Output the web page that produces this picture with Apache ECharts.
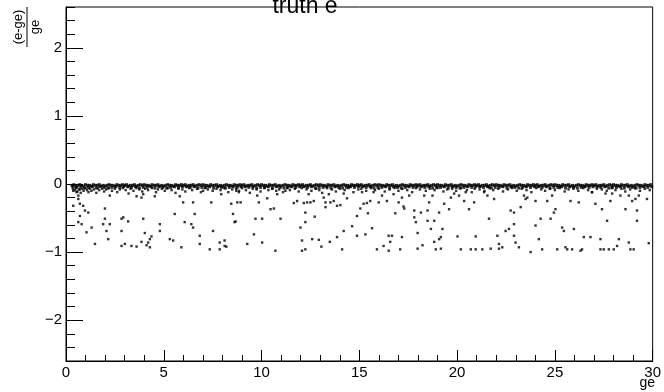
<!DOCTYPE html>
<html>
<head>
<meta charset="utf-8">
<script src="https://cdn.jsdelivr.net/npm/echarts@6/dist/echarts.min.js"></script>
<style>
  html, body { margin: 0; padding: 0; background: #fff; }
  #chart { width: 664px; height: 392px; }
</style>
</head>
<body>
<div id="chart"></div>
<script>
// axis ticks / labels
let xTicks = [0, 5, 10, 15, 20, 25, 30]
let yMajor = [-2, -1, 0, 1, 2]

// dense band just under zero (top row)
let bandTop = [
  [0.3,-0.02],[0.4,-0.01],[0.5,-0.03],[0.6,-0.02],[0.7,-0.01],[0.8,-0.02],[0.9,-0.03],
  [1.0,-0.01],[1.1,-0.02],[1.2,-0.02],[1.3,-0.03],[1.4,-0.01],[1.5,-0.02],[1.6,-0.02],[1.7,-0.01],[1.8,-0.03],[1.9,-0.02],
  [2.0,-0.03],[2.1,-0.02],[2.2,-0.01],[2.3,-0.02],[2.4,-0.02],[2.5,-0.03],[2.6,-0.01],[2.7,-0.02],[2.8,-0.02],[2.9,-0.01],
  [3.0,-0.02],[3.1,-0.01],[3.2,-0.03],[3.3,-0.02],[3.4,-0.02],[3.5,-0.01],[3.6,-0.03],[3.7,-0.02],[3.8,-0.01],[3.9,-0.02],
  [4.0,-0.01],[4.1,-0.02],[4.2,-0.02],[4.3,-0.03],[4.4,-0.01],[4.5,-0.02],[4.6,-0.02],[4.7,-0.01],[4.8,-0.03],[4.9,-0.02],
  [5.0,-0.03],[5.1,-0.02],[5.2,-0.01],[5.3,-0.02],[5.4,-0.02],[5.5,-0.03],[5.6,-0.01],[5.7,-0.02],[5.8,-0.02],[5.9,-0.01],
  [6.0,-0.02],[6.1,-0.01],[6.2,-0.03],[6.3,-0.02],[6.4,-0.02],[6.5,-0.01],[6.6,-0.03],[6.7,-0.02],[6.8,-0.01],[6.9,-0.02],
  [7.0,-0.01],[7.1,-0.02],[7.2,-0.02],[7.3,-0.03],[7.4,-0.01],[7.5,-0.02],[7.6,-0.02],[7.7,-0.01],[7.8,-0.03],[7.9,-0.02],
  [8.0,-0.03],[8.1,-0.02],[8.2,-0.01],[8.3,-0.02],[8.4,-0.02],[8.5,-0.03],[8.6,-0.01],[8.7,-0.02],[8.8,-0.02],[8.9,-0.01],
  [9.0,-0.02],[9.1,-0.01],[9.2,-0.03],[9.3,-0.02],[9.4,-0.02],[9.5,-0.01],[9.6,-0.03],[9.7,-0.02],[9.8,-0.01],[9.9,-0.02],
  [10.0,-0.01],[10.1,-0.02],[10.2,-0.02],[10.3,-0.03],[10.4,-0.01],[10.5,-0.02],[10.6,-0.02],[10.7,-0.01],[10.8,-0.03],[10.9,-0.02],
  [11.0,-0.03],[11.1,-0.02],[11.2,-0.01],[11.3,-0.02],[11.4,-0.02],[11.5,-0.03],[11.6,-0.01],[11.7,-0.02],[11.8,-0.02],[11.9,-0.01],
  [12.0,-0.02],[12.1,-0.01],[12.2,-0.03],[12.3,-0.02],[12.4,-0.02],[12.5,-0.01],[12.6,-0.03],[12.7,-0.02],[12.8,-0.01],[12.9,-0.02],
  [13.0,-0.01],[13.1,-0.02],[13.2,-0.02],[13.3,-0.03],[13.4,-0.01],[13.5,-0.02],[13.6,-0.02],[13.7,-0.01],[13.8,-0.03],[13.9,-0.02],
  [14.0,-0.03],[14.1,-0.02],[14.2,-0.01],[14.3,-0.02],[14.4,-0.02],[14.5,-0.03],[14.6,-0.01],[14.7,-0.02],[14.8,-0.02],[14.9,-0.01],
  [15.0,-0.02],[15.1,-0.01],[15.2,-0.03],[15.3,-0.02],[15.4,-0.02],[15.5,-0.01],[15.6,-0.03],[15.7,-0.02],[15.8,-0.01],[15.9,-0.02],
  [16.0,-0.01],[16.1,-0.02],[16.2,-0.02],[16.3,-0.03],[16.4,-0.01],[16.5,-0.02],[16.6,-0.02],[16.7,-0.01],[16.8,-0.03],[16.9,-0.02],
  [17.0,-0.03],[17.1,-0.02],[17.2,-0.01],[17.3,-0.02],[17.4,-0.02],[17.5,-0.03],[17.6,-0.01],[17.7,-0.02],[17.8,-0.02],[17.9,-0.01],
  [18.0,-0.02],[18.1,-0.01],[18.2,-0.03],[18.3,-0.02],[18.4,-0.02],[18.5,-0.01],[18.6,-0.03],[18.7,-0.02],[18.8,-0.01],[18.9,-0.02],
  [19.0,-0.01],[19.1,-0.02],[19.2,-0.02],[19.3,-0.03],[19.4,-0.01],[19.5,-0.02],[19.6,-0.02],[19.7,-0.01],[19.8,-0.03],[19.9,-0.02],
  [20.0,-0.03],[20.1,-0.02],[20.2,-0.01],[20.3,-0.02],[20.4,-0.02],[20.5,-0.03],[20.6,-0.01],[20.7,-0.02],[20.8,-0.02],[20.9,-0.01],
  [21.0,-0.02],[21.1,-0.01],[21.2,-0.03],[21.3,-0.02],[21.4,-0.02],[21.5,-0.01],[21.6,-0.03],[21.7,-0.02],[21.8,-0.01],[21.9,-0.02],
  [22.0,-0.01],[22.1,-0.02],[22.2,-0.02],[22.3,-0.03],[22.4,-0.01],[22.5,-0.02],[22.6,-0.02],[22.7,-0.01],[22.8,-0.03],[22.9,-0.02],
  [23.0,-0.03],[23.1,-0.02],[23.2,-0.01],[23.3,-0.02],[23.4,-0.02],[23.5,-0.03],[23.6,-0.01],[23.7,-0.02],[23.8,-0.02],[23.9,-0.01],
  [24.0,-0.02],[24.1,-0.01],[24.2,-0.03],[24.3,-0.02],[24.4,-0.02],[24.5,-0.01],[24.6,-0.03],[24.7,-0.02],[24.8,-0.01],[24.9,-0.02],
  [25.0,-0.01],[25.1,-0.02],[25.2,-0.02],[25.3,-0.03],[25.4,-0.01],[25.5,-0.02],[25.6,-0.02],[25.7,-0.01],[25.8,-0.03],[25.9,-0.02],
  [26.0,-0.03],[26.1,-0.02],[26.2,-0.01],[26.3,-0.02],[26.4,-0.02],[26.5,-0.03],[26.6,-0.01],[26.7,-0.02],[26.8,-0.02],[26.9,-0.01],
  [27.0,-0.02],[27.1,-0.01],[27.2,-0.03],[27.3,-0.02],[27.4,-0.02],[27.5,-0.01],[27.6,-0.03],[27.7,-0.02],[27.8,-0.01],[27.9,-0.02],
  [28.0,-0.01],[28.1,-0.02],[28.2,-0.02],[28.3,-0.03],[28.4,-0.01],[28.5,-0.02],[28.6,-0.02],[28.7,-0.01],[28.8,-0.03],[28.9,-0.02],
  [29.0,-0.03],[29.1,-0.02],[29.2,-0.01],[29.3,-0.02],[29.4,-0.02],[29.5,-0.03],[29.6,-0.01],[29.7,-0.02],[29.8,-0.02],[29.9,-0.01]
]

// lower edge of the band
let bandLow = [
  [0.35,-0.04],[0.55,-0.05],[0.75,-0.04],[0.95,-0.06],
  [1.15,-0.05],[1.35,-0.04],[1.55,-0.06],[1.75,-0.04],[1.95,-0.05],
  [2.15,-0.06],[2.35,-0.05],[2.55,-0.04],[2.75,-0.05],[2.95,-0.04],
  [3.15,-0.04],[3.35,-0.05],[3.55,-0.04],[3.75,-0.06],[3.95,-0.05],
  [4.15,-0.05],[4.35,-0.04],[4.55,-0.06],[4.75,-0.04],[4.95,-0.05],
  [5.15,-0.06],[5.35,-0.05],[5.55,-0.04],[5.75,-0.05],[5.95,-0.04],
  [6.15,-0.04],[6.35,-0.05],[6.55,-0.04],[6.75,-0.06],[6.95,-0.05],
  [7.15,-0.05],[7.35,-0.04],[7.55,-0.06],[7.75,-0.04],[7.95,-0.05],
  [8.15,-0.06],[8.35,-0.05],[8.55,-0.04],[8.75,-0.05],[8.95,-0.04],
  [9.15,-0.04],[9.35,-0.05],[9.55,-0.04],[9.75,-0.06],[9.95,-0.05],
  [10.15,-0.05],[10.35,-0.04],[10.55,-0.06],[10.75,-0.04],[10.95,-0.05],
  [11.15,-0.06],[11.35,-0.05],[11.55,-0.04],[11.75,-0.05],[11.95,-0.04],
  [12.15,-0.04],[12.35,-0.05],[12.55,-0.04],[12.75,-0.06],[12.95,-0.05],
  [13.15,-0.05],[13.35,-0.04],[13.55,-0.06],[13.75,-0.04],[13.95,-0.05],
  [14.15,-0.06],[14.35,-0.05],[14.55,-0.04],[14.75,-0.05],[14.95,-0.04],
  [15.15,-0.04],[15.35,-0.05],[15.55,-0.04],[15.75,-0.06],[15.95,-0.05],
  [16.15,-0.05],[16.35,-0.04],[16.55,-0.06],[16.75,-0.04],[16.95,-0.05],
  [17.15,-0.06],[17.35,-0.05],[17.55,-0.04],[17.75,-0.05],[17.95,-0.04],
  [18.15,-0.04],[18.35,-0.05],[18.55,-0.04],[18.75,-0.06],[18.95,-0.05],
  [19.15,-0.05],[19.35,-0.04],[19.55,-0.06],[19.75,-0.04],[19.95,-0.05],
  [20.15,-0.06],[20.35,-0.05],[20.55,-0.04],[20.75,-0.05],[20.95,-0.04],
  [21.15,-0.04],[21.35,-0.05],[21.55,-0.04],[21.75,-0.06],[21.95,-0.05],
  [22.15,-0.05],[22.35,-0.04],[22.55,-0.06],[22.75,-0.04],[22.95,-0.05],
  [23.15,-0.06],[23.35,-0.05],[23.55,-0.04],[23.75,-0.05],[23.95,-0.04],
  [24.15,-0.04],[24.35,-0.05],[24.55,-0.04],[24.75,-0.06],[24.95,-0.05],
  [25.15,-0.05],[25.35,-0.04],[25.55,-0.06],[25.75,-0.04],[25.95,-0.05],
  [26.15,-0.06],[26.35,-0.05],[26.55,-0.04],[26.75,-0.05],[26.95,-0.04],
  [27.15,-0.04],[27.35,-0.05],[27.55,-0.04],[27.75,-0.06],[27.95,-0.05],
  [28.15,-0.05],[28.35,-0.04],[28.55,-0.06],[28.75,-0.04],[28.95,-0.05],
  [29.15,-0.06],[29.35,-0.05],[29.55,-0.04],[29.75,-0.05],[29.95,-0.04]
]

// loose points just below the band
let nearBand = [
  [0.35,-0.07],[0.45,-0.09],[0.5,-0.06],[0.58,-0.11],[0.66,-0.08],[0.75,-0.13],[0.82,-0.07],[0.9,-0.1],[1.0,-0.06],[1.08,-0.09],
  [1.15,-0.12],[1.22,-0.07],[1.3,-0.1],[1.42,-0.08],[1.55,-0.13],[1.62,-0.06],[1.7,-0.09],[1.85,-0.07],[1.95,-0.11],[2.05,-0.08],
  [2.2,-0.06],[2.35,-0.1],[2.5,-0.07],[2.62,-0.12],[2.75,-0.08],[2.9,-0.06],[3.05,-0.09],[3.2,-0.14],[3.3,-0.07],[3.45,-0.1],
  [3.6,-0.06],[3.75,-0.08],[3.9,-0.11],[4.05,-0.07],[4.2,-0.09],[4.4,-0.06],[4.6,-0.12],[4.7,-0.08],[4.9,-0.07],[5.05,-0.1],
  [5.2,-0.06],[5.4,-0.09],[5.6,-0.13],[5.75,-0.07],[5.95,-0.08],[6.1,-0.11],[6.3,-0.06],[6.45,-0.09],[6.7,-0.07],[6.9,-0.12],
  [7.1,-0.06],[7.25,-0.08],[7.5,-0.1],[7.7,-0.07],[7.9,-0.09],[8.1,-0.06],[8.3,-0.12],[8.5,-0.08],[8.7,-0.07],[8.85,-0.1],
  [9.0,-0.06],[9.2,-0.09],[9.4,-0.13],[9.55,-0.07],[9.75,-0.08],[9.95,-0.11],[10.15,-0.06],[10.35,-0.09],[10.55,-0.07],[10.75,-0.1],
  [10.9,-0.08],[11.1,-0.12],[11.3,-0.06],[11.45,-0.09],[11.7,-0.07],[11.9,-0.11],[12.05,-0.06],[12.3,-0.08],[12.55,-0.1],[12.8,-0.07],
  [12.95,-0.09],[13.1,-0.13],[13.35,-0.06],[13.6,-0.08],[13.8,-0.11],[14.0,-0.07],[14.25,-0.09],[14.45,-0.06],[14.7,-0.12],[14.95,-0.08],
  [15.1,-0.07],[15.35,-0.1],[15.6,-0.06],[15.8,-0.09],[16.0,-0.07],[16.3,-0.11],[16.55,-0.08],[16.8,-0.06],[17.0,-0.1],[17.2,-0.07],
  [17.45,-0.09],[17.7,-0.12],[17.9,-0.06],[18.1,-0.08],[18.4,-0.1],[18.6,-0.07],[18.85,-0.09],[19.0,-0.06],[19.3,-0.11],[19.5,-0.08],
  [19.75,-0.07],[19.95,-0.1],[20.2,-0.06],[20.5,-0.09],[20.75,-0.12],[20.9,-0.07],[21.15,-0.08],[21.4,-0.1],[21.65,-0.06],[21.85,-0.09],
  [22.1,-0.07],[22.35,-0.11],[22.6,-0.08],[22.8,-0.06],[23.05,-0.1],[23.3,-0.07],[23.55,-0.09],[23.8,-0.12],[24.05,-0.06],[24.3,-0.08],
  [24.5,-0.1],[24.75,-0.07],[25.0,-0.09],[25.25,-0.06],[25.5,-0.11],[25.7,-0.08],[25.95,-0.07],[26.2,-0.1],[26.45,-0.06],[26.7,-0.09],
  [26.9,-0.12],[27.15,-0.07],[27.4,-0.08],[27.65,-0.1],[27.9,-0.06],[28.1,-0.09],[28.4,-0.07],[28.6,-0.11],[28.85,-0.08],[29.1,-0.06],
  [29.35,-0.1],[29.6,-0.07],[29.85,-0.09]
]

// scattered points down to about -1
let tail = [
  [0.37,-0.10],[0.54,-0.12],[0.71,-0.08],[0.63,-0.17],[0.63,-0.22],[0.71,-0.29],[0.37,-0.32],[0.88,-0.32],[0.97,-0.39],[1.14,-0.42],
  [0.71,-0.47],[0.80,-0.59],[0.63,-0.56],[1.05,-0.71],[1.31,-0.64],[1.48,-0.88],[1.90,-0.59],[1.99,-0.51],[2.07,-0.69],[2.16,-0.81],
  [1.99,-0.36],[2.24,-0.59],[2.24,-0.17],[2.84,-0.51],[2.93,-0.49],[2.84,-0.69],[2.84,-0.91],[3.01,-0.88],[3.18,-0.55],[3.35,-0.91],
  [3.61,-0.92],[3.61,-0.18],[3.86,-0.20],[3.95,-0.15],[3.95,-0.51],[4.03,-0.72],[4.12,-0.90],[4.20,-0.86],[4.29,-0.81],[4.37,-0.77],
  [4.29,-0.93],[3.86,-0.85],[4.54,-0.18],[4.80,-0.69],[4.80,-0.59],[5.31,-0.81],[5.48,-0.83],[5.56,-0.44],[5.90,-0.93],[5.82,-0.18],
  [5.99,-0.27],[6.07,-0.56],[6.41,-0.59],[6.50,-0.64],[6.50,-0.27],[6.58,-0.44],[6.84,-0.76],[6.84,-0.88],[7.01,-0.10],[7.35,-0.96],
  [7.43,-0.27],[7.52,-0.69],[7.86,-0.96],[7.86,-0.86],[7.94,-0.15],[8.11,-0.83],[8.11,-0.91],[8.20,-0.92],[8.45,-0.29],[8.54,-0.44],
  [8.62,-0.56],[8.71,-0.10],
  [8.76,-0.27],[8.93,-0.27],[8.84,-0.12],[8.67,-0.55],[9.27,-0.88],[9.61,-0.74],[9.69,-0.51],[9.78,-0.17],[9.86,-0.27],[10.03,-0.51],
  [10.03,-0.86],[10.29,-0.21],[10.46,-0.37],[10.63,-0.36],[10.71,-0.98],[10.80,-0.15],[10.97,-0.51],[11.22,-0.10],[11.65,-0.28],[11.82,-0.25],
  [11.99,-0.64],[12.07,-0.83],[12.07,-0.98],[12.24,-0.42],[12.24,-0.96],[12.16,-0.28],[12.33,-0.27],[12.24,-0.56],[12.41,-0.15],[12.50,-0.27],
  [12.59,-0.81],[12.67,-0.25],[12.72,-0.48],[12.93,-0.82],[13.06,-0.92],[13.18,-0.20],[13.27,-0.34],[13.27,-0.27],[13.44,-0.15],[13.52,-0.27],
  [13.49,-0.85],[13.69,-0.25],[13.86,-0.78],[13.86,-0.32],[14.03,-0.31],[14.12,-0.96],[14.20,-0.69],[14.20,-0.14],[14.37,-0.21],[14.63,-0.62],
  [14.88,-0.76],[14.88,-0.47],[15.05,-0.36],[15.14,-0.12],[15.22,-0.29],[15.31,-0.74],[15.39,-0.28],[15.44,-0.43],[15.56,-0.25],[15.65,-0.65],
  [15.73,-0.12],[15.90,-0.96],[15.99,-0.27],[16.16,-0.17],[16.24,-0.91],[16.41,-0.25],[16.50,-0.98],[16.50,-0.76],[16.58,-0.85],[16.67,-0.76],
  [16.75,-0.15],[16.84,-0.43],[17.01,-0.27],[17.09,-0.96],[17.18,-0.20],[17.18,-0.78],[17.26,-0.33],
  [17.30,-0.36],[17.55,-0.17],[17.81,-0.39],[17.81,-0.49],[17.89,-0.56],[17.98,-0.72],[17.98,-0.95],[18.15,-0.42],[18.23,-0.90],[18.32,-0.17],
  [18.49,-0.54],[18.49,-0.39],[18.57,-0.27],[18.66,-0.66],[18.74,-0.17],[18.83,-0.54],[18.83,-0.85],[18.91,-0.96],[19.08,-0.42],[19.08,-0.81],
  [19.17,-0.95],[19.17,-0.78],[19.25,-0.66],[19.34,-0.29],[19.59,-0.37],[19.68,-0.20],[19.85,-0.14],[20.02,-0.77],[20.10,-0.17],[20.19,-0.96],
  [20.36,-0.25],[20.44,-0.12],[20.61,-0.37],[20.70,-0.96],[20.87,-0.27],[20.95,-0.96],[20.95,-0.77],[21.29,-0.96],[21.38,-0.12],[21.63,-0.51],
  [21.55,-0.17],[21.72,-0.95],[21.89,-0.22],[22.06,-0.76],[22.14,-0.88],[22.14,-0.95],[22.31,-0.93],[22.48,-0.69],[22.65,-0.66],[22.74,-0.39],
  [22.91,-0.59],[22.91,-0.76],[22.99,-0.86],[22.91,-0.42],[23.16,-0.93],[23.25,-0.34],[23.42,-0.17],[23.50,-0.22],[23.59,-0.20],[23.76,-1.00],
  [24.01,-0.61],[24.01,-0.25],[24.18,-0.81],[24.27,-0.51],[24.35,-0.96],[24.61,-0.25],[24.78,-0.51],[24.86,-0.17],[24.95,-0.42],[25.03,-0.37],
  [25.12,-0.96],[25.37,-0.64],[25.46,-0.69],[25.54,-0.93],[25.63,-0.96],[25.80,-0.25],[25.88,-0.96],[25.97,-0.66],[26.22,-0.27],[26.31,-0.98],
  [26.39,-0.96],[26.48,-0.78],[26.82,-0.78],[26.90,-0.12],[27.07,-0.29],[27.33,-0.81],[27.33,-0.96],[27.41,-0.37],[27.50,-0.96],[27.59,-0.14],
  [27.67,-0.54],[27.76,-0.96],[27.84,-0.25],[27.93,-0.14],[28.01,-0.96],[28.18,-0.91],[28.27,-0.81],[28.35,-0.17],[28.61,-0.37],[28.78,-0.17],
  [28.78,-0.86],[28.86,-0.96],[28.95,-0.25],[29.03,-0.96],[29.12,-0.22],[29.20,-0.39],[29.20,-0.54],[29.29,-0.17],[29.71,-0.22],[29.80,-0.87]
]

let font = 'Liberation Sans, Arial, Helvetica, sans-serif'
let myChart = echarts.init(document.getElementById('chart'), null, {renderer: 'canvas'})

function minus (v) {
  return v < 0 ? '\u2212' + (-v) : String(v)
}

let option = {
  animation: false,
  backgroundColor: '#fff',
  grid: {
    left: 66,
    right: 10,
    top: 7,
    bottom: 31,
    show: true,
    borderColor: '#000',
    borderWidth: 1
  },
  xAxis: {
    type: 'value',
    min: 0,
    max: 30,
    interval: 5,
    axisLine: {show: true, onZero: false, lineStyle: {color: '#000', width: 1}},
    axisTick: {show: true, inside: true, length: 11, lineStyle: {color: '#000'}},
    minorTick: {show: true, splitNumber: 5, length: 6, lineStyle: {color: '#000'}},
    splitLine: {show: false},
    axisLabel: {
      color: '#000', fontSize: 15, fontFamily: font, margin: 4,
      customValues: xTicks
    }
  },
  yAxis: [
    {
      type: 'value',
      min: -2.6,
      max: 2.6,
      interval: 0.2,
      axisLine: {show: true, onZero: false, lineStyle: {color: '#000', width: 1}},
      axisTick: {show: true, inside: true, length: 9, lineStyle: {color: '#000'}},
      splitLine: {show: false},
      axisLabel: {show: false}
    },
    {
      type: 'value',
      position: 'left',
      min: -2.6,
      max: 2.6,
      interval: 0.2,
      axisLine: {show: false},
      axisTick: {show: true, inside: true, length: 17, customValues: yMajor, lineStyle: {color: '#000'}},
      splitLine: {show: false},
      axisLabel: {
        color: '#000', fontSize: 15, fontFamily: font, margin: 4,
        customValues: yMajor,
        formatter: minus
      }
    }
  ],
  graphic: [
    {
      type: 'text', x: 305, y: 18, z: 100, silent: true,
      style: {text: 'truth e', fill: '#000', fontSize: 23, fontFamily: font,
        align: 'center', verticalAlign: 'bottom', textAlign: 'center', textVerticalAlign: 'bottom'}
    },
    {
      type: 'text', x: 655, y: 383, silent: true,
      style: {text: 'ge', fill: '#000', fontSize: 14, fontFamily: font,
        align: 'right', verticalAlign: 'middle', textAlign: 'right', textVerticalAlign: 'middle'}
    },
    {
      type: 'group', x: 27, y: 27, rotation: Math.PI / 2, silent: true,
      children: [
        {
          type: 'text', x: 0, y: -9,
          style: {text: '(e-ge)', fill: '#000', fontSize: 13, fontFamily: font,
            align: 'center', verticalAlign: 'middle', textAlign: 'center', textVerticalAlign: 'middle'}
        },
        {
          type: 'line',
          shape: {x1: -20, y1: 0, x2: 20, y2: 0},
          style: {stroke: '#000', lineWidth: 1}
        },
        {
          type: 'text', x: 0, y: 8,
          style: {text: 'ge', fill: '#000', fontSize: 13, fontFamily: font,
            align: 'center', verticalAlign: 'middle', textAlign: 'center', textVerticalAlign: 'middle'}
        }
      ]
    }
  ],
  series: [
    {
      // the dense band: marks drawn a bit larger so the band reads solid
      type: 'scatter',
      xAxisIndex: 0,
      yAxisIndex: 0,
      symbol: 'rect',
      symbolSize: [3, 3],
      silent: true,
      itemStyle: {color: '#000'},
      data: bandTop.concat(bandLow)
    },
    {
      type: 'scatter',
      xAxisIndex: 0,
      yAxisIndex: 0,
      symbol: 'rect',
      symbolSize: 2.4,
      silent: true,
      itemStyle: {color: '#000'},
      data: nearBand.concat(tail)
    }
  ]
}
myChart.setOption(option)
</script>
</body>
</html>
